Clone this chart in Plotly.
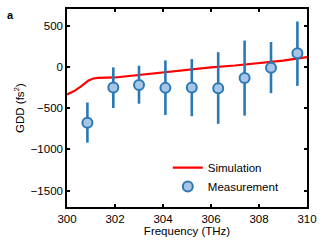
import plotly.graph_objects as go

sim_freq = [300.0, 300.3, 300.6, 300.9, 301.1, 301.3, 302, 303, 304, 305, 306, 307, 308, 309, 310]
sim_gdd = [-335, -295, -235, -165, -142, -135, -130, -100, -66, -35, -8, 15, 42, 75, 117]

meas_freq = [300.85, 301.93, 303.0, 304.1, 305.2, 306.3, 307.4, 308.5, 309.6]
meas_gdd = [-680, -252, -220, -256, -252, -260, -136, -12, 165]
err_plus = [247, 244, 232, 333, 345, 437, 453, 312, 384]
err_minus = [240, 248, 228, 328, 348, 432, 456, 308, 397]

fig = go.Figure()
fig.add_trace(go.Scatter(x=sim_freq, y=sim_gdd, mode="lines", name="Simulation",
                         line=dict(color="#ff0000", width=2.2)))
fig.add_trace(go.Scatter(x=meas_freq, y=meas_gdd, mode="markers", name="Measurement",
                         marker=dict(size=10, color="#a7c6e6", line=dict(color="#2a79b6", width=2)),
                         error_y=dict(type="data", array=err_plus, arrayminus=err_minus,
                                      color="#2a79b6", thickness=2.6, width=0)))

font_family = "Liberation Sans, Arial"
axis_common = dict(showline=True, linecolor="black", linewidth=1.5, mirror="ticks",
                   ticks="inside", ticklen=3, tickwidth=1.5, tickcolor="black",
                   showgrid=False, zeroline=False,
                   tickfont=dict(family=font_family, size=11.5, color="black"))
fig.update_xaxes(range=[300, 310], dtick=2, title=dict(text="Frequency (THz)", standoff=2,
                 font=dict(family=font_family, size=11.5, color="black")), **axis_common)
fig.update_yaxes(range=[-1700, 700], tickvals=[500, 0, -500, -1000, -1500],
                 ticktext=["500", "0", "\u2212500", "\u22121000", "\u22121500"],
                 title=dict(text="GDD (fs<sup>2</sup>)", standoff=4,
                 font=dict(family=font_family, size=11.5, color="black")), **axis_common)

fig.add_annotation(text="<b>a</b>", xref="paper", yref="paper", x=-0.235, y=1.01,
                   xanchor="center", yanchor="top", showarrow=False,
                   font=dict(family=font_family, size=11, color="black"))

fig.update_layout(width=327, height=247, margin=dict(l=67, r=20, t=7, b=40),
                  plot_bgcolor="white", paper_bgcolor="white",
                  legend=dict(x=0.42, y=0.03, xanchor="left", yanchor="bottom",
                              bgcolor="rgba(0,0,0,0)", tracegroupgap=0,
                              font=dict(family=font_family, size=11.5, color="black")),
                  showlegend=True)
fig.write_html("out.html", config={"displayModeBar": False},
               post_script="document.body.style.margin='0';document.body.style.padding='0';")
